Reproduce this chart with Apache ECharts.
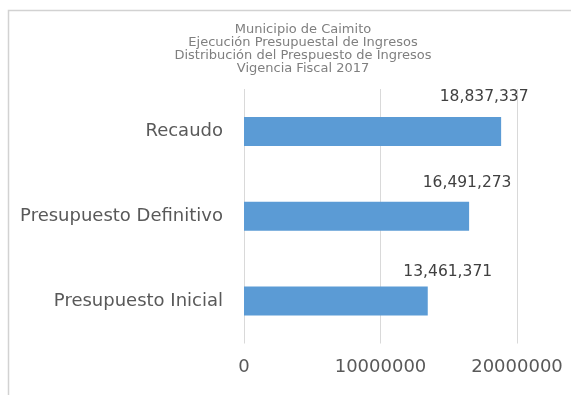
<!DOCTYPE html>
<html>
<head>
<meta charset="utf-8">
<script src="https://cdn.jsdelivr.net/npm/echarts@6/dist/echarts.min.js"></script>
<style>
  html, body { margin: 0; padding: 0; background: #ffffff; }
  #chart { width: 571px; height: 395px; }
</style>
</head>
<body>
<div id="chart"></div>
<script>
// Rubros del presupuesto (de abajo hacia arriba en el eje vertical)
const categories = ['Presupuesto Inicial', 'Presupuesto Definitivo', 'Recaudo'];
// Valores en pesos
const values = [13461371, 16491273, 18837337];
// Marcas del eje horizontal
const xTicks = [0, 10000000, 20000000];

const titleLines = [
  'Municipio de Caimito',
  'Ejecución Presupuestal de Ingresos',
  'Distribución del Prespuesto de Ingresos',
  'Vigencia Fiscal 2017'
];

// Etiquetas de datos colocadas a mano sobre cada barra [dx, dy]
const labelOffsets = [[20, -29], [-2, -33], [-17, -34]];

const chart = echarts.init(document.getElementById('chart'), null, { renderer: 'canvas' });

const fmt = v => Number(v).toLocaleString('en-US');

chart.setOption({
  animation: false,
  backgroundColor: '#ffffff',
  graphic: [
    {
      // marco del gráfico (borde superior e izquierdo)
      type: 'polyline',
      silent: true,
      shape: { points: [[8.5, 420], [8.5, 10.5], [600, 10.5]] },
      style: { fill: null, stroke: '#d2d2d2', lineWidth: 1.5 }
    },
    {
      type: 'text',
      silent: true,
      style: {
        x: 303,
        y: 23,
        text: titleLines.join('\n'),
        textAlign: 'center',
        textVerticalAlign: 'top',
        fontFamily: 'DejaVu Sans',
        fontSize: 13,
        lineHeight: 13,
        fill: '#7f7f7f'
      }
    }
  ],
  grid: { left: 244, right: 54, top: 89, bottom: 51.5, containLabel: false },
  xAxis: {
    type: 'value',
    min: xTicks[0],
    max: xTicks[xTicks.length - 1],
    interval: xTicks[1] - xTicks[0],
    axisLine: { show: false },
    axisTick: { show: false },
    splitLine: { show: true, lineStyle: { color: '#d9d9d9', width: 1 } },
    axisLabel: {
      margin: 15,
      color: '#595959',
      fontFamily: 'DejaVu Sans',
      fontSize: 18,
      formatter: v => String(v)
    }
  },
  yAxis: {
    type: 'category',
    data: categories,
    axisLine: { show: false },
    axisTick: { show: false },
    axisLabel: {
      margin: 21,
      color: '#595959',
      fontFamily: 'DejaVu Sans',
      fontSize: 18
    }
  },
  series: [{
    type: 'bar',
    barWidth: 29,
    itemStyle: { color: '#5b9bd5' },
    data: values.map((v, i) => ({
      value: v,
      label: { offset: labelOffsets[i] }
    })),
    label: {
      show: true,
      position: 'right',
      distance: 0,
      align: 'center',
      verticalAlign: 'middle',
      color: '#404040',
      fontFamily: 'DejaVu Sans',
      fontSize: 15.5,
      formatter: p => fmt(p.value)
    }
  }]
});
</script>
</body>
</html>
